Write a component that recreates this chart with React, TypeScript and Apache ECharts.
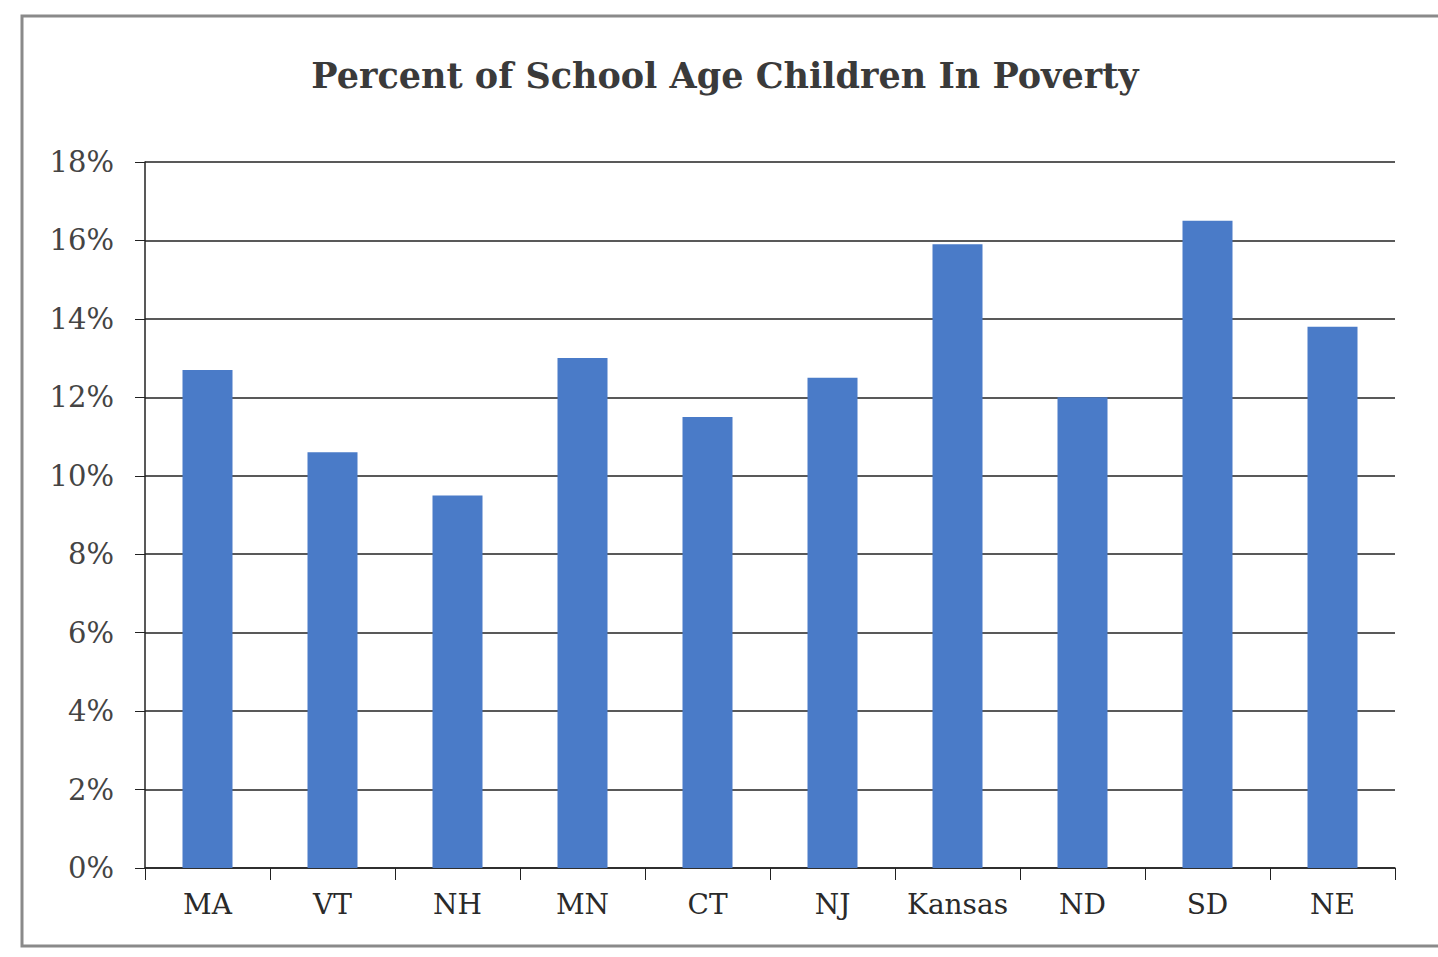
import React, { useEffect, useRef } from "react";
import * as echarts from "echarts";

const categories = ["MA", "VT", "NH", "MN", "CT", "NJ", "Kansas", "ND", "SD", "NE"];
const povertyPct = [12.7, 10.6, 9.5, 13.0, 11.5, 12.5, 15.9, 12.0, 16.5, 13.8];
const titleText = "Percent of School Age Children In Poverty";

export default function App() {
  const ref = useRef<HTMLDivElement>(null);
  useEffect(() => {
    if (!ref.current) return;
    const chart = echarts.init(ref.current, null, { renderer: "svg" });
    const font = "'DejaVu Serif', 'Liberation Serif', serif";
    chart.setOption({
      animation: false,
      backgroundColor: "#ffffff",
      graphic: [
        {
          type: "rect",
          shape: { x: 22, y: 16, width: 1440, height: 930 },
          style: { fill: "none", stroke: "#8a8a8a", lineWidth: 3 },
          silent: true,
        },
        {
          type: "text",
          x: 725,
          y: 75,
          style: {
            text: titleText,
            font: `bold 35px ${font}`,
            fill: "#3a3a3a",
            textAlign: "center",
            textVerticalAlign: "middle",
          },
        },
      ],
      grid: { left: 145, right: 43, top: 162, bottom: 89 },
      xAxis: {
        type: "category",
        data: categories,
        boundaryGap: true,
        axisLine: { lineStyle: { color: "#222", width: 1.5 } },
        axisTick: { show: true, interval: 0, length: 12, alignWithLabel: false, lineStyle: { color: "#222" } },
        axisLabel: { interval: 0, hideOverlap: false, color: "#2a2a2a", fontFamily: font, fontSize: 28, margin: 22 },
      },
      yAxis: {
        type: "value",
        min: 0,
        max: 18,
        interval: 2,
        axisLine: { show: true, lineStyle: { color: "#222", width: 1.5 } },
        axisTick: { show: true, length: 10, lineStyle: { color: "#222" } },
        splitLine: { lineStyle: { color: "#222", width: 1.5 } },
        axisLabel: {
          color: "#444",
          fontFamily: font,
          fontSize: 29,
          margin: 31,
          formatter: (v: number) => `${v}%`,
        },
      },
      series: [
        {
          type: "bar",
          data: povertyPct,
          barWidth: "40%",
          itemStyle: { color: "#4a7bc8" },
        },
      ],
    });
    return () => chart.dispose();
  }, []);
  return (
    <div
      ref={ref}
      style={{ position: "fixed", left: 0, top: 0, width: 1438, height: 957 }}
    />
  );
}
